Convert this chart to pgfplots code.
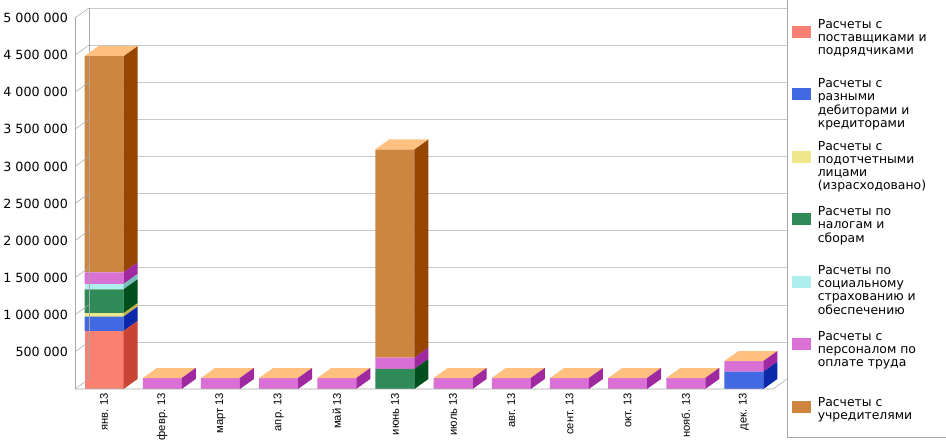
\documentclass[border=0pt]{standalone}
\usepackage{fontspec}
\setmainfont{DejaVu Sans}
\newfontfamily\armono{Liberation Sans}
\usepackage{pgfplots}
\usepackage{pgfplotstable}
\pgfplotsset{compat=1.18}

\definecolor{c1}{HTML}{FA8072}\definecolor{c1s}{HTML}{C84434}
\definecolor{c2}{HTML}{4169E1}\definecolor{c2s}{HTML}{0A28AA}
\definecolor{c3}{HTML}{F0E68C}\definecolor{c3s}{HTML}{C8B446}
\definecolor{c4}{HTML}{2E8B57}\definecolor{c4s}{HTML}{00501E}
\definecolor{c5}{HTML}{AFEEEE}\definecolor{c5s}{HTML}{78BEBE}
\definecolor{c6}{HTML}{DA70D6}\definecolor{c6s}{HTML}{A028A0}
\definecolor{c7}{HTML}{CD853F}\definecolor{c7s}{HTML}{964600}
\definecolor{c7t}{HTML}{FFC080}
\definecolor{gridc}{HTML}{C8C8C8}
\definecolor{wallc}{HTML}{A8A8A8}

% values in thousands
\pgfplotstableread{
m a b c d e f g
0 782 193 46 323 71 158 2915
1 0 0 0 0 0 148 0.001
2 0 0 0 0 0 148 0.001
3 0 0 0 0 0 148 0.001
4 0 0 0 0 0 148 0.001
5 0 0 0 270 0 152 2809
6 0 0 0 0 0 148 0.001
7 0 0 0 0 0 148 0.001
8 0 0 0 0 0 148 0.001
9 0 0 0 0 0 148 0.001
10 0 0 0 0 0 148 0.001
11 0 233 0 0 0 144 0.001
}\tbl

% pseudo 3D: depth 10.5pt right / 7.5pt up, half bar width 14.625pt
% 1 (thousand) = 0.05565pt on the y axis
\pgfdeclareplotmark{side}{%
  \pgfpathmoveto{\pgfpoint{14.625pt}{0pt}}%
  \pgfpathlineto{\pgfpoint{25.125pt}{7.5pt}}%
  \pgfpathlineto{\pgfpoint{25.125pt}{7.5pt-\segh*0.05565pt}}%
  \pgfpathlineto{\pgfpoint{14.625pt}{-\segh*0.05565pt}}%
  \pgfpathclose
  \pgfusepathqfill}
\pgfdeclareplotmark{sidetop}{%
  \pgfuseplotmark{side}%
  \pgfsetfillcolor{c7t}%
  \pgfpathmoveto{\pgfpoint{-14.625pt}{0pt}}%
  \pgfpathlineto{\pgfpoint{14.625pt}{0pt}}%
  \pgfpathlineto{\pgfpoint{25.125pt}{7.5pt}}%
  \pgfpathlineto{\pgfpoint{-4.125pt}{7.5pt}}%
  \pgfpathclose
  \pgfusepathqfill}

\newcommand\colseg[4]{%
  \addplot[forget plot, fill=#2, draw=none, scatter, mark=#4,
    scatter/use mapped color={draw=none, fill=#3},
    visualization depends on={rawy\as\segh}]
    table[x=m, y=#1] {\tbl};}
\newcommand\lt[1]{\begin{tabular}{@{}l@{}}#1\end{tabular}}
\pgfplotsset{sq/.style={legend image code/.code={\fill[#1] (0pt,-4.125pt) rectangle (13.5pt,4.125pt);}}}

\begin{document}
\begin{tikzpicture}
\path[use as bounding box] (0,0) rectangle (709.5pt,331.5pt);
\begin{axis}[
  at={(56.25pt,39.75pt)}, anchor=south west,
  scale only axis, width=523.5pt, height=278.25pt,
  xmin=-0.5, xmax=11.5, ymin=0, ymax=5000,
  ybar stacked, bar width=29.25pt,
  axis line style={draw=none}, major tick length=0pt, tick style={draw=none},
  ymajorgrids, major grid style={gridc, xshift=10.5pt, yshift=7.5pt},
  xtick={0,...,11},
  xticklabels={янв. 13, февр. 13, март 13, апр. 13, май 13, июнь 13, июль 13, авг. 13, сент. 13, окт. 13, нояб. 13, дек. 13},
  ytick={500,1000,...,5000},
  yticklabels={500 000, 1 000 000, 1 500 000, 2 000 000, 2 500 000, 3 000 000, 3 500 000, 4 000 000, 4 500 000, 5 000 000},
  xticklabel style={rotate=90, anchor=east, font=\armono\fontsize{8.4}{10}\selectfont, xshift=-1pt, inner sep=1.8pt},
  yticklabel style={font=\fontsize{9.5}{11}\selectfont, xshift=-1.8pt},
  clip=false,
  legend style={at={(1.0272,1.0485)}, anchor=north west, draw=none, fill=none,
    inner sep=0pt, row sep=0pt, column sep=5.25pt,
    font=\fontsize{9.3}{9.75}\selectfont,
    nodes={minimum height=46.875pt, inner sep=0pt, outer sep=0pt}},
  legend cell align=left,
]
% walls and floor
\pgfplotsinvokeforeach{0,500,...,5000}{
  \draw[wallc] (axis cs:-0.5,#1) -- ++(10.5pt,7.5pt);
}
\draw[wallc] (axis cs:-0.5,0) -- (axis cs:-0.5,5000);
\draw[wallc] ([shift={(10.5pt,7.5pt)}]axis cs:-0.5,0) -- ([shift={(10.5pt,7.5pt)}]axis cs:-0.5,5000);
\draw[wallc] (axis cs:-0.5,0) -- (axis cs:11.5,0) -- ++(10.5pt,7.5pt);

\colseg{a}{c1}{c1s}{side}
\colseg{b}{c2}{c2s}{side}
\colseg{c}{c3}{c3s}{side}
\colseg{d}{c4}{c4s}{side}
\colseg{e}{c5}{c5s}{side}
\colseg{f}{c6}{c6s}{side}
\colseg{g}{c7}{c7s}{sidetop}

\addlegendimage{sq=c1}\addlegendentry{\lt{Расчеты с\\поставщиками и\\подрядчиками}}
\addlegendimage{sq=c2}\addlegendentry{\lt{Расчеты с\\разными\\дебиторами и\\кредиторами}}
\addlegendimage{sq=c3}\addlegendentry{\lt{Расчеты с\\подотчетными\\лицами\\(израсходовано)}}
\addlegendimage{sq=c4}\addlegendentry{\lt{Расчеты по\\налогам и\\сборам}}
\addlegendimage{sq=c5}\addlegendentry{\lt{Расчеты по\\социальному\\страхованию и\\обеспечению}}
\addlegendimage{sq=c6}\addlegendentry{\lt{Расчеты с\\персоналом по\\оплате труда}}
\addlegendimage{sq=c7}\addlegendentry{\lt{Расчеты с\\учредителями}}
\end{axis}
\draw[wallc] (590.25pt,3.75pt) rectangle (720pt,333pt);
\end{tikzpicture}
\end{document}
